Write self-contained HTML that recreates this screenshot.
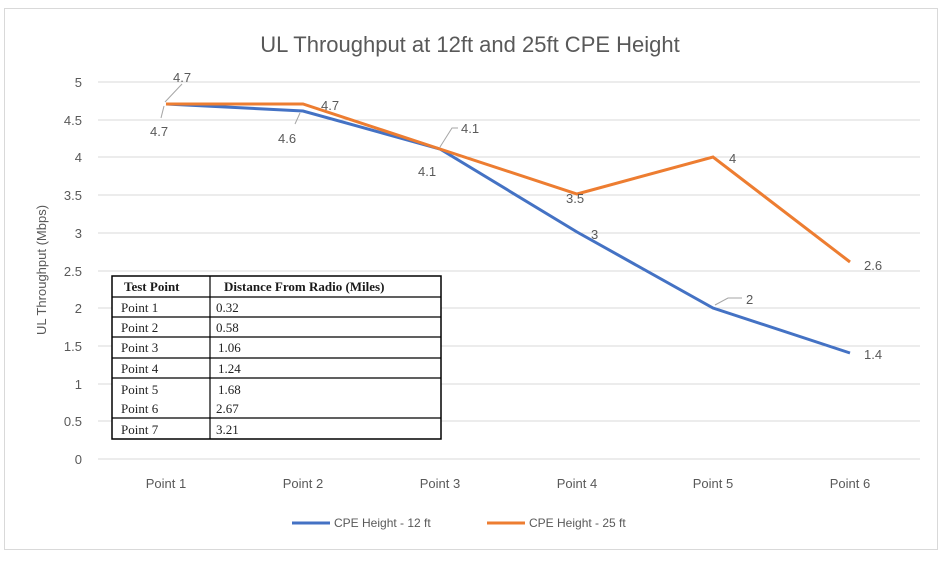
<!DOCTYPE html>
<html><head><style>
body{margin:0;background:#fff;width:950px;height:560px;overflow:hidden}
svg text{font-family:"Liberation Sans",sans-serif;fill:#595959}
</style></head><body>
<svg width="950" height="560" xmlns="http://www.w3.org/2000/svg">
<rect x="4.5" y="8.5" width="933" height="541" fill="#fff" stroke="#d9d9d9"/>
<text x="470" y="52" font-size="22" text-anchor="middle">UL Throughput at 12ft and 25ft CPE Height</text>
<g stroke="#d9d9d9" stroke-width="1">
<line x1="98" x2="920" y1="82" y2="82"/><line x1="98" x2="920" y1="120" y2="120"/>
<line x1="98" x2="920" y1="157" y2="157"/><line x1="98" x2="920" y1="195" y2="195"/>
<line x1="98" x2="920" y1="233" y2="233"/><line x1="98" x2="920" y1="271" y2="271"/>
<line x1="98" x2="920" y1="308" y2="308"/><line x1="98" x2="920" y1="346" y2="346"/>
<line x1="98" x2="920" y1="384" y2="384"/><line x1="98" x2="920" y1="421" y2="421"/>
<line x1="98" x2="920" y1="459" y2="459"/>
</g>
<g font-size="13" text-anchor="end">
<text x="82" y="87">5</text><text x="82" y="125">4.5</text><text x="82" y="162">4</text>
<text x="82" y="200">3.5</text><text x="82" y="238">3</text><text x="82" y="276">2.5</text>
<text x="82" y="313">2</text><text x="82" y="351">1.5</text><text x="82" y="389">1</text>
<text x="82" y="426">0.5</text><text x="82" y="464">0</text>
</g>
<text transform="translate(46,270) rotate(-90)" font-size="13" text-anchor="middle">UL Throughput (Mbps)</text>
<g font-size="13" text-anchor="middle">
<text x="166" y="488">Point 1</text><text x="303" y="488">Point 2</text><text x="440" y="488">Point 3</text>
<text x="577" y="488">Point 4</text><text x="713" y="488">Point 5</text><text x="850" y="488">Point 6</text>
</g>
<polyline points="166,104 303,111 440,149 577,232 713,308 850,353" fill="none" stroke="#4472c4" stroke-width="3"/>
<polyline points="166,104 303,104 440,149 577,194 713,157 850,262" fill="none" stroke="#ed7d31" stroke-width="3"/>
<g stroke="#a6a6a6" fill="none">
<polyline points="165,102 182,84"/><polyline points="164,106 161,118"/>
<polyline points="300,113 295,124"/><polyline points="440,147 452,128 458,128"/>
<polyline points="715,305 728,298 742,298"/>
</g>
<g font-size="13">
<text x="173" y="82">4.7</text><text x="150" y="136">4.7</text><text x="278" y="143">4.6</text>
<text x="321" y="110">4.7</text><text x="461" y="133">4.1</text><text x="418" y="176">4.1</text>
<text x="566" y="203">3.5</text><text x="591" y="239">3</text><text x="729" y="163">4</text>
<text x="746" y="304">2</text><text x="864" y="270">2.6</text><text x="864" y="359">1.4</text>
</g>
<g font-family="Liberation Serif" font-size="13">
<rect x="112" y="276" width="329" height="163" fill="#fff" stroke="#000" stroke-width="1.5"/>
<g stroke="#000" stroke-width="1.2">
<line x1="210" x2="210" y1="276" y2="439"/>
<line x1="112" x2="441" y1="297" y2="297"/><line x1="112" x2="441" y1="317" y2="317"/>
<line x1="112" x2="441" y1="337" y2="337"/><line x1="112" x2="441" y1="358" y2="358"/>
<line x1="112" x2="441" y1="378" y2="378"/><line x1="112" x2="441" y1="418" y2="418"/>
</g>
<g style="font-family:'Liberation Serif',serif">
<text x="124" y="291" font-weight="bold" style="fill:#1a1a1a;font-family:'Liberation Serif',serif">Test Point</text>
<text x="224" y="291" font-weight="bold" style="fill:#1a1a1a;font-family:'Liberation Serif',serif">Distance From Radio (Miles)</text>
</g>
<g style="fill:#222">
<text x="121" y="312" style="fill:#222;font-family:'Liberation Serif',serif">Point 1</text><text x="216" y="312" style="fill:#222;font-family:'Liberation Serif',serif">0.32</text>
<text x="121" y="332" style="fill:#222;font-family:'Liberation Serif',serif">Point 2</text><text x="216" y="332" style="fill:#222;font-family:'Liberation Serif',serif">0.58</text>
<text x="121" y="352" style="fill:#222;font-family:'Liberation Serif',serif">Point 3</text><text x="218" y="352" style="fill:#222;font-family:'Liberation Serif',serif">1.06</text>
<text x="121" y="373" style="fill:#222;font-family:'Liberation Serif',serif">Point 4</text><text x="218" y="373" style="fill:#222;font-family:'Liberation Serif',serif">1.24</text>
<text x="121" y="394" style="fill:#222;font-family:'Liberation Serif',serif">Point 5</text><text x="218" y="394" style="fill:#222;font-family:'Liberation Serif',serif">1.68</text>
<text x="121" y="413" style="fill:#222;font-family:'Liberation Serif',serif">Point 6</text><text x="216" y="413" style="fill:#222;font-family:'Liberation Serif',serif">2.67</text>
<text x="121" y="434" style="fill:#222;font-family:'Liberation Serif',serif">Point 7</text><text x="216" y="434" style="fill:#222;font-family:'Liberation Serif',serif">3.21</text>
</g>
</g>
<line x1="292" x2="330" y1="523" y2="523" stroke="#4472c4" stroke-width="3"/>
<text x="334" y="527" font-size="12">CPE Height - 12 ft</text>
<line x1="487" x2="525" y1="523" y2="523" stroke="#ed7d31" stroke-width="3"/>
<text x="529" y="527" font-size="12">CPE Height - 25 ft</text>
</svg>
</body></html>
